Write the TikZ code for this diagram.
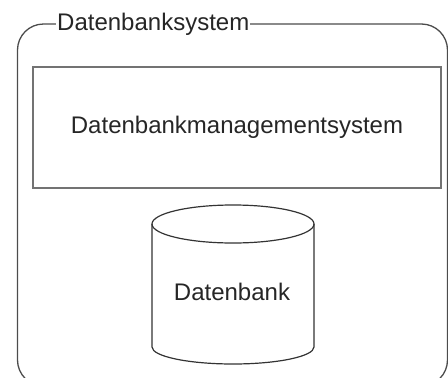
\documentclass[tikz,border=0pt]{standalone}
\usepackage{fontspec}
\setmainfont{Liberation Sans}
\usepackage{tikz}

\begin{document}
\begin{tikzpicture}[x=1pt,y=-1pt,every node/.style={font=\fontsize{24}{28}\selectfont,text=black!85}]
        \clip (0,0) rectangle (448,378);
        \draw[black!70,line width=1.3pt,rounded corners=26pt] (17.5,24) rectangle (447.5,386);
        \node[fill=white,inner xsep=1pt,inner ysep=0pt,anchor=west] (dbs) at (56,24) {Datenbanksystem};
        \node[draw=black!55,line width=2pt,minimum width=408pt,minimum height=121pt] (dbms) at (237,127.5) {Datenbankmanagementsystem};
        \draw[black!80,line width=1.2pt] (152,224) -- (152,347) arc[start angle=180,end angle=0,x radius=81,y radius=17] -- (314,224);
        \draw[black!80,line width=1.2pt] (233,224) ellipse[x radius=81,y radius=19];
        \node (db) at (232,292) {Datenbank};
      \end{tikzpicture}
\end{document}
